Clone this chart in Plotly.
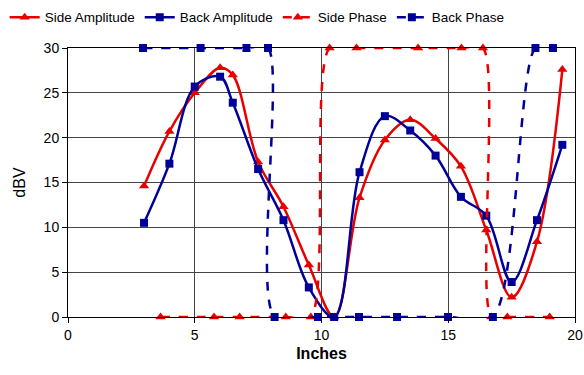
import plotly.graph_objects as go

# Amplitude data (dBV) vs position (inches)
amp_x = [3, 4, 5, 6, 6.5, 7.5, 8.5, 9.5, 10.5, 11.5, 12.5, 13.5, 14.5, 15.5, 16.5, 17.5, 18.5, 19.5]
side_amp = [14.6, 20.7, 25.0, 27.8, 27.0, 17.3, 12.3, 5.8, 0, 13.3, 19.75, 22.0, 19.9, 16.8, 9.7, 2.2, 8.4, 27.6]
back_amp = [10.5, 17.1, 25.7, 26.8, 23.9, 16.5, 10.8, 3.3, 0, 16.15, 22.4, 20.8, 18.0, 13.4, 11.3, 3.9, 10.8, 19.2]

# Phase data (scaled to axis)
side_phase_x = [3.65, 5.76, 6.77, 8.59, 9.58, 10.32, 11.38, 13.81, 15.52, 16.37, 16.7, 17.33, 19.0]
side_phase = [0, 0, 0, 0, 0, 30, 30, 30, 30, 30, 0, 0, 0]
back_phase_x = [2.96, 5.23, 7.04, 7.89, 8.15, 9.86, 11.48, 12.98, 14.99, 16.76, 18.44, 19.13]
back_phase = [30, 30, 30, 30, 0, 0, 0, 0, 0, 0, 30, 30]

x_ticks = [0, 5, 10, 15, 20]
y_ticks = [0, 5, 10, 15, 20, 25, 30]

RED = "#E80000"
BLUE = "#000099"
FONT = "Liberation Sans, Arial, sans-serif"

fig = go.Figure()
fig.add_trace(go.Scatter(
    x=amp_x, y=side_amp, name="Side Amplitude", mode="lines+markers",
    line=dict(color=RED, width=2.5, shape="spline", smoothing=1),
    marker=dict(symbol="triangle-up", size=9, color=RED), cliponaxis=False))
fig.add_trace(go.Scatter(
    x=amp_x, y=back_amp, name="Back Amplitude", mode="lines+markers",
    line=dict(color=BLUE, width=2.5, shape="spline", smoothing=1),
    marker=dict(symbol="square", size=8, color=BLUE), cliponaxis=False))
fig.add_trace(go.Scatter(
    x=side_phase_x, y=side_phase, name="Side Phase", mode="lines+markers",
    line=dict(color=RED, width=2.5, dash="dash", shape="spline", smoothing=0.8),
    marker=dict(symbol="triangle-up", size=9, color=RED), cliponaxis=False))
fig.add_trace(go.Scatter(
    x=back_phase_x, y=back_phase, name="Back Phase", mode="lines+markers",
    line=dict(color=BLUE, width=2.5, dash="dash", shape="spline", smoothing=0.8),
    marker=dict(symbol="square", size=8, color=BLUE), cliponaxis=False))

fig.update_layout(
    width=584, height=375,
    margin=dict(l=68, r=9, t=48, b=58, autoexpand=False),
    paper_bgcolor="white", plot_bgcolor="white",
    font=dict(family=FONT, size=14, color="black"),
    showlegend=True,
    legend=dict(orientation="h", xref="container", yref="container",
                x=0.008, y=0.995, xanchor="left", yanchor="top",
                font=dict(size=13.5), itemwidth=30, tracegroupgap=0,
                bgcolor="rgba(0,0,0,0)"),
    xaxis=dict(range=[0, 20], tickvals=x_ticks, ticktext=[str(v) for v in x_ticks],
               showgrid=True, gridcolor="#444", gridwidth=1,
               showline=True, linecolor="black", linewidth=1, mirror=True,
               ticks="outside", ticklen=5, tickcolor="black", zeroline=False,
               title=dict(text="<b>Inches</b>", font=dict(size=16), standoff=6)),
    yaxis=dict(range=[0, 30], tickvals=y_ticks, ticktext=[str(v) for v in y_ticks],
               showgrid=True, gridcolor="#444", gridwidth=1,
               showline=True, linecolor="black", linewidth=1, mirror=True,
               ticks="outside", ticklen=5, tickcolor="black", zeroline=False,
               title=dict(text="dBV", font=dict(size=16), standoff=14)),
)

fig.write_html("out.html")
